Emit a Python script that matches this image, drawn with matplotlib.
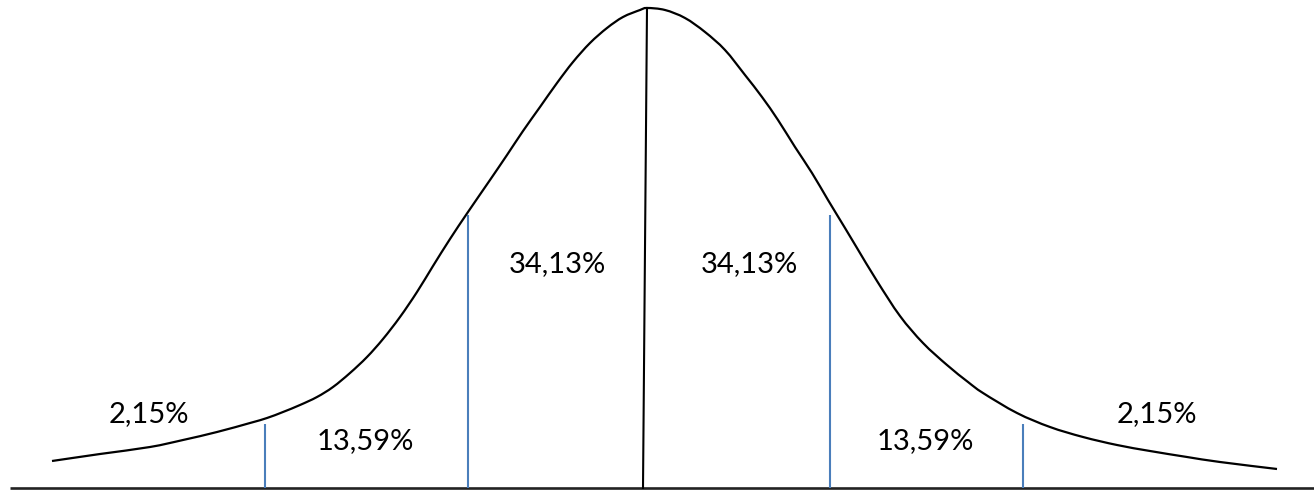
import matplotlib
matplotlib.use("Agg")
from matplotlib import pyplot as plt
from matplotlib.path import Path
from matplotlib.patches import PathPatch

# curve points (x to the right, y downward, picture units)
curve_x = [52, 100, 150, 183, 217, 250, 267, 283, 300, 317, 333, 350, 367, 383, 400, 417, 433,
           450, 468, 490, 507, 523, 540, 557, 573, 590, 607, 623, 640, 647,
           665, 685, 705, 725, 745, 762, 778, 795, 812, 828, 845, 857, 877, 900, 923, 947, 968,
           983, 1017, 1050, 1083, 1117, 1150, 1187, 1220, 1277]
curve_y = [461, 454, 447, 440, 432, 423, 418, 412, 405, 397, 387, 373, 357, 339, 317, 292, 266,
           239, 212, 180, 155, 131, 107, 83, 62, 43, 28, 17, 10, 8,
           10, 18, 32, 50, 75, 97, 120, 147, 173, 200, 228, 248, 281, 316, 343, 365, 382,
           393, 413, 427, 437, 445, 451, 457, 462, 469]

# separators: x position and top of line
blue_x = [265, 468, 830, 1023]
blue_top = [424, 215, 215, 424]
center_top = (647, 8)
center_bottom = (643, 488)
base_y = 488

labels = ["2,15%", "13,59%", "34,13%", "34,13%", "13,59%", "2,15%"]
label_x = [149, 365, 557, 749, 925, 1157]
label_y = [422, 449, 272, 272, 449, 422]

fig = plt.figure(figsize=(13.14, 4.92), dpi=100)
ax = fig.add_axes([0, 0, 1, 1])
ax.set_xlim(0, 1314)
ax.set_ylim(492, 0)
ax.axis("off")

ax.plot([10, 1314], [base_y, base_y], color="#222222", lw=1.9, solid_capstyle="butt")
for x, t in zip(blue_x, blue_top):
    ax.plot([x, x], [t, base_y], color="#4a7ebb", lw=1.5, solid_capstyle="butt")
ax.plot([center_top[0], center_bottom[0]], [center_top[1], center_bottom[1]], color="black", lw=1.5)

# smooth freeform through the read points (bezier segments, like the drawing tool)
pts = list(zip(curve_x, curve_y))
verts = [pts[0]]
codes = [Path.MOVETO]
n = len(pts)
for i in range(n - 1):
    p0 = pts[max(i - 1, 0)]
    p1 = pts[i]
    p2 = pts[i + 1]
    p3 = pts[min(i + 2, n - 1)]
    c1 = (p1[0] + (p2[0] - p0[0]) / 6, p1[1] + (p2[1] - p0[1]) / 6)
    c2 = (p2[0] - (p3[0] - p1[0]) / 6, p2[1] - (p3[1] - p1[1]) / 6)
    verts += [c1, c2, p2]
    codes += [Path.CURVE4] * 3
ax.add_patch(PathPatch(Path(verts, codes), fill=False, edgecolor="black", lw=1.6))

for s, x, y in zip(labels, label_x, label_y):
    ax.text(x, y, s, ha="center", va="baseline", fontsize=21, family="Lato", color="black")

fig.savefig("out.png", dpi=100)
